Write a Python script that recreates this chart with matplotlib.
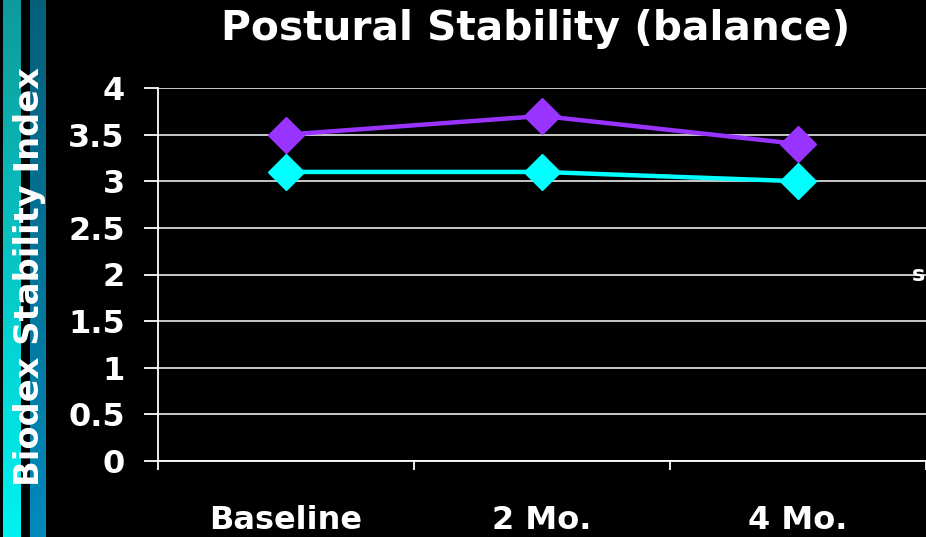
import matplotlib
matplotlib.use("Agg")
import matplotlib.pyplot as plt
import numpy as np
from matplotlib.colors import LinearSegmentedColormap

# data
categories = ["Baseline", "2 Mo.", "4 Mo."]
series_purple = [3.5, 3.7, 3.4]
series_cyan = [3.1, 3.1, 3.0]
yticks = [0, 0.5, 1, 1.5, 2, 2.5, 3, 3.5, 4]
ytick_labels = ["0", "0.5", "1", "1.5", "2", "2.5", "3", "3.5", "4"]

plt.rcParams['font.family'] = ['DejaVu Sans']
plt.rcParams['font.weight'] = 'bold'

W, H = 926, 537
fig = plt.figure(figsize=(W / 100, H / 100), dpi=100, facecolor="black")

# decorative stripes on the left
grad = np.linspace(0, 1, 256).reshape(-1, 1)
cm1 = LinearSegmentedColormap.from_list("s1", ["#0f9a9a", "#00f2f2"])
cm2 = LinearSegmentedColormap.from_list("s2", ["#05607a", "#008abb"])
for x0, x1, cm in [(3, 20, cm1), (30, 46, cm2)]:
    sax = fig.add_axes([x0 / W, 0, (x1 - x0) / W, 1])
    sax.imshow(grad, aspect="auto", cmap=cm, origin="upper")
    sax.axis("off")

ax = fig.add_axes([158 / W, (H - 461) / H, 1 - 158 / W, (461 - 88) / H])
ax.set_facecolor("black")

x = np.arange(len(categories)) + 0.5
ax.plot(x, series_purple, color="#9933ff", lw=3.2, marker="D", ms=18,
        mec="#9933ff", zorder=3, clip_on=False)
ax.plot(x, series_cyan, color="#00ffff", lw=3.2, marker="D", ms=18,
        mec="#00ffff", zorder=3, clip_on=False)

ax.set_xlim(0, 3)
ax.set_ylim(0, 4)
ax.set_yticks(yticks)
ax.set_yticklabels(ytick_labels)
ax.set_xticks([0, 1, 2, 3])
ax.set_xticklabels([])
ax.set_xticks(x, minor=True)
ax.set_xticklabels(categories, minor=True)

ax.grid(axis="y", color="#d8d8d8", lw=1.3)
ax.set_axisbelow(True)
for s in ["top", "right"]:
    ax.spines[s].set_visible(False)
for s in ["left", "bottom"]:
    ax.spines[s].set_color("white")
    ax.spines[s].set_linewidth(1.3)

ax.tick_params(axis="y", colors="white", length=10, width=1.3, pad=14,
               labelsize=23)
ax.tick_params(axis="x", which="major", colors="white", length=6.5, width=1.3)
ax.tick_params(axis="x", which="minor", colors="white", length=0, pad=32,
               labelsize=23)
for lab in ax.get_yticklabels() + ax.get_xticklabels(minor=True):
    lab.set_fontweight("bold")

fig.text(535.5 / W, 1 - 29 / H, "Postural Stability (balance)", color="white",
         fontsize=29.3, fontweight="bold", ha="center", va="center")
fig.text(30 / W, 1 - 276 / H, "Biodex Stability Index", color="white",
         fontsize=24.3, fontweight="bold", ha="center", va="center", rotation=90)
fig.text(912 / W, 1 - 275 / H, "s", color="white", fontsize=16,
         fontweight="bold", ha="left", va="center")

fig.savefig("out.png", dpi=100, facecolor="black")
